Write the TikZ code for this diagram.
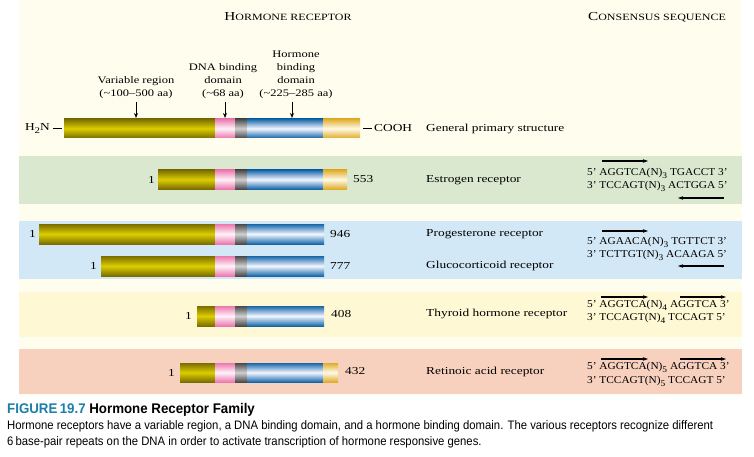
\documentclass[tikz,border=0pt]{standalone}
\usepackage{fontspec}
\setmainfont{Liberation Serif}
\newfontfamily\lblf[FakeStretch=1.25,Ligatures=TeX]{Liberation Serif}
\newfontfamily\seqf[FakeStretch=1.08,Ligatures=TeX]{Liberation Serif}
\newfontfamily\capf[FakeStretch=0.92]{Liberation Sans}
\newfontfamily\capbf[FakeStretch=0.95]{Liberation Sans}
\usetikzlibrary{arrows.meta}
\definecolor{cream}{HTML}{FFFDEE}
\definecolor{bandG}{HTML}{D9E8CF}
\definecolor{bandB}{HTML}{D3E8F6}
\definecolor{bandY}{HTML}{FFF8D4}
\definecolor{bandR}{HTML}{F8D0BE}
\definecolor{olD}{HTML}{7A6E00}
\definecolor{olL}{HTML}{DCCD00}
\definecolor{pkD}{HTML}{EC78AE}
\definecolor{pkL}{HTML}{FFF2F8}
\definecolor{gyD}{HTML}{4A4A4A}
\definecolor{gyL}{HTML}{CFCFCF}
\definecolor{blD}{HTML}{1666AA}
\definecolor{blL}{HTML}{F4F7FF}
\definecolor{goD}{HTML}{E0AC2C}
\definecolor{goL}{HTML}{FFF9E6}
\definecolor{teal}{HTML}{1B7FA6}
\tikzset{
  lbl/.style={inner sep=0pt, font=\lblf\fontsize{10.7}{12}\selectfont},
  toplbl/.style={inner sep=0pt, align=center, font=\lblf\fontsize{10}{13}\selectfont},
  seq/.style={inner sep=0pt, anchor=west, font=\seqf\fontsize{10.5}{12}\selectfont},
  darr/.style={-{Stealth[length=5pt,width=4pt]}, line width=0.9pt},
  sarr/.style={-{Stealth[length=5pt,width=3.5pt]}, line width=1.1pt},
}
\newcommand\subn[1]{\raisebox{-3pt}{\fontsize{8.7}{10}\selectfont #1}}
% segment: x1 x2 ytop ybot darkcolour lightcolour
\newcommand\segm[6]{\shade[top color=#5, bottom color=#5, middle color=#6] (#1,#3) rectangle (#2,#4);}
% receptor bar: ytop ybot xstart xend(blue) xend(gold)
\newcommand\recbar[5]{%
  \segm{#3}{215}{#1}{#2}{olD}{olL}
  \segm{215}{235}{#1}{#2}{pkD}{pkL}
  \segm{235}{247}{#1}{#2}{gyD}{gyL}
  \segm{247}{#4}{#1}{#2}{blD}{blL}
  \ifdim #5pt>#4pt \segm{#4}{#5}{#1}{#2}{goD}{goL}\fi
}
\begin{document}
\begin{tikzpicture}[x=1pt,y=-1pt]
\useasboundingbox (0,0) rectangle (754,457);
\fill[white] (0,0) rectangle (754,457);
\fill[cream] (19,0) rectangle (742,395);
\fill[bandG] (19,156) rectangle (742,204);
\fill[bandB] (19,221) rectangle (742,279);
\fill[bandY] (19,292) rectangle (742,337);
\fill[bandR] (19,349) rectangle (742,394);

% headers
\node[inner sep=0pt] (hdr1) at (288,17) {\lblf\fontsize{12.2}{12}\selectfont H\fontsize{9.6}{12}\selectfont ORMONE RECEPTOR};
\node[inner sep=0pt] (hdr2) at (657,17) {\lblf\fontsize{12.2}{12}\selectfont C\fontsize{9.6}{12}\selectfont ONSENSUS SEQUENCE};

% general structure
\recbar{119}{138}{64}{323}{360}
\coordinate (barL) at (62,128.5);
\coordinate (barR) at (363,128.5);
\node[lbl, anchor=east] (h2n) at (50,128.5) {H\subn{2}N};
\node[lbl, anchor=west] (cooh) at (374,128.5) {COOH};
\draw[line width=0.7pt] (h2n.east) ++(3,0) coordinate (h2nl) -- (barL);
\draw[line width=0.7pt] (barR) -- ([xshift=-2pt]cooh.west);
\node[lbl, anchor=west] (gps) at (426,128.5) {General primary structure};

\node[toplbl, anchor=south] (varl) at (136,99) {Variable region\\(\textasciitilde100–500 aa)};
\node[toplbl, anchor=south] (dnal) at (223,99) {DNA binding\\domain\\(\textasciitilde68 aa)};
\node[toplbl, anchor=south] (hbl) at (296,99) {Hormone\\binding\\domain\\(\textasciitilde225–285 aa)};
\coordinate (vart) at (136,118);
\coordinate (dnat) at (225,118);
\coordinate (hbt) at (292,118);
\draw[darr] (136,102) -- (vart);
\draw[darr] (225,102) -- (dnat);
\draw[darr] (292,102) -- (hbt);

% estrogen
\recbar{170}{189}{158}{323}{347}
\node[lbl, anchor=east] (e1) at (155,179.5) {1};
\node[lbl, anchor=west] (e2) at (353,179.5) {553};
\node[lbl, anchor=west] (en) at (426,180) {Estrogen receptor};
\node[seq] (es1) at (587,173) {5’ AGGTCA(N)\subn{3} TGACCT 3’};
\node[seq] (es2) at (587,186) {3’ TCCAGT(N)\subn{3} ACTGGA 5’};
\coordinate (ea1) at (602,161); \coordinate (ea2) at (648,161);
\coordinate (eb1) at (724,198); \coordinate (eb2) at (678,198);
\draw[sarr] (ea1) -- (ea2);
\draw[sarr] (eb1) -- (eb2);

% progesterone / glucocorticoid
\recbar{224}{244}{39}{324}{324}
\node[lbl, anchor=east] (p1) at (36,234) {1};
\node[lbl, anchor=west] (p2) at (330,234) {946};
\node[lbl, anchor=west] (pn) at (426,234) {Progesterone receptor};
\recbar{256}{276}{101}{324}{324}
\node[lbl, anchor=east] (g1) at (97,266) {1};
\node[lbl, anchor=west] (g2) at (330,266) {777};
\node[lbl, anchor=west] (gn) at (426,266) {Glucocorticoid receptor};
\node[seq] (ps1) at (587,242) {5’ AGAACA(N)\subn{3} TGTTCT 3’};
\node[seq] (ps2) at (587,255) {3’ TCTTGT(N)\subn{3} ACAAGA 5’};
\coordinate (pa1) at (602,231); \coordinate (pa2) at (648,231);
\coordinate (pb1) at (724,266); \coordinate (pb2) at (678,266);
\draw[sarr] (pa1) -- (pa2);
\draw[sarr] (pb1) -- (pb2);

% thyroid
\recbar{306}{326}{197}{324}{324}
\node[lbl, anchor=east] (t1) at (192,316) {1};
\node[lbl, anchor=west] (t2) at (331,314) {408};
\node[lbl, anchor=west] (tn) at (426,314) {Thyroid hormone receptor};
\node[seq] (ts1) at (587,305) {5’ AGGTCA(N)\subn{4} AGGTCA 3’};
\node[seq] (ts2) at (587,318.5) {3’ TCCAGT(N)\subn{4} TCCAGT 5’};
\coordinate (ta1) at (601,297); \coordinate (ta2) at (648,297);
\coordinate (ta3) at (680,297); \coordinate (ta4) at (726,297);
\draw[sarr] (ta1) -- (ta2);
\draw[sarr] (ta3) -- (ta4);

% retinoic
\recbar{363}{382}{180}{323}{338}
\node[lbl, anchor=east] (r1) at (175,372.5) {1};
\node[lbl, anchor=west] (r2) at (345,371) {432};
\node[lbl, anchor=west] (rn) at (426,372) {Retinoic acid receptor};
\node[seq] (rs1) at (587,367.5) {5’ AGGTCA(N)\subn{5} AGGTCA 3’};
\node[seq] (rs2) at (587,381) {3’ TCCAGT(N)\subn{5} TCCAGT 5’};
\coordinate (ra1) at (601,359); \coordinate (ra2) at (648,359);
\coordinate (ra3) at (680,359); \coordinate (ra4) at (726,359);
\draw[sarr] (ra1) -- (ra2);
\draw[sarr] (ra3) -- (ra4);

% caption
\node[inner sep=0pt, anchor=west, font=\capbf\fontsize{14}{16}\selectfont\bfseries] (capt) at (7,410) {\textcolor{teal}{FIGURE\,19.7} Hormone Receptor Family};
\node[inner sep=0pt, anchor=north west, align=left, font=\capf\fontsize{12.3}{16}\selectfont] (capb) at (7,420.5) {Hormone receptors have a variable region, a DNA binding domain, and a hormone binding domain. The various receptors recognize different\\6\,base-pair repeats on the DNA in order to activate transcription of hormone responsive genes.};
\end{tikzpicture}
\end{document}
